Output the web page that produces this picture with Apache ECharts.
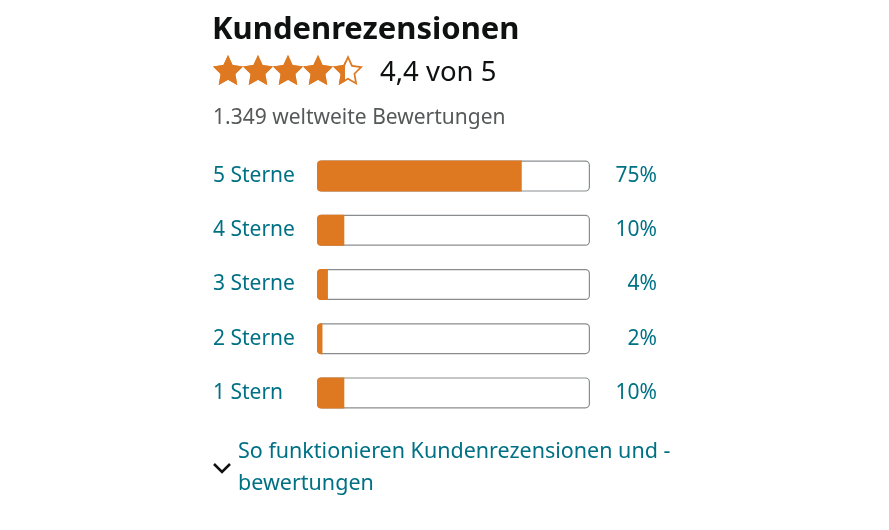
<!DOCTYPE html>
<html><head><meta charset="utf-8">
<script src="https://cdn.jsdelivr.net/npm/echarts@6/dist/echarts.min.js"></script>
<style>html,body{margin:0;padding:0;background:#fff}#c{width:889px;height:530px}</style>
</head><body><div id="c"></div>
<script>
const categories = ['5 Sterne', '4 Sterne', '3 Sterne', '2 Sterne', '1 Stern'];
const percentValues = [75, 10, 4, 2, 10];
const percentLabels = ['75%', '10%', '4%', '2%', '10%'];
const rating = 4.4;
const maxRating = 5;
const totalRatings = '1.349';

const FONT = 'Noto Sans';
const TEAL = '#007185';
const ORANGE = '#de7921';
const STAR = 'path://M12 1.6L15.1 8.1L22.2 9L17 13.9L18.3 21L12 17.6L5.7 21L7 13.9L1.8 9L8.9 8.1Z';
const STAR_HOLLOW = 'path://M12 1.6L15.1 8.1L22.2 9L17 13.9L18.3 21L12 17.6L5.7 21L7 13.9L1.8 9L8.9 8.1Z' +
  'M12 4.3L9.7 9.2L4.35 9.9L8.25 13.55L7.3 18.9L12 16.3L16.7 18.9L15.75 13.55L19.65 9.9L14.3 9.2Z';

const chart = echarts.init(document.getElementById('c'), null, {renderer: 'canvas'});
chart.setOption({
  animation: false,
  textStyle: {fontFamily: FONT},
  grid: [
    {left: 317, right: 299, top: 149, height: 271, containLabel: false},
    {left: 213, width: 150, top: 55, height: 30}
  ],
  xAxis: [
    {gridIndex: 0, type: 'value', min: 0, max: 100, show: false},
    {gridIndex: 1, type: 'value', min: 0, max: maxRating, show: false}
  ],
  yAxis: [
    {gridIndex: 0, type: 'category', data: categories, inverse: true,
     axisLine: {show: false}, axisTick: {show: false}, splitLine: {show: false},
     axisLabel: {align: 'left', margin: 104, color: TEAL, fontSize: 21, fontFamily: FONT}},
    {gridIndex: 0, type: 'category', data: percentLabels, inverse: true, position: 'right',
     axisLine: {show: false}, axisTick: {show: false}, splitLine: {show: false},
     axisLabel: {align: 'right', margin: 67, color: TEAL, fontSize: 21, fontFamily: FONT}},
    {gridIndex: 1, type: 'category', data: ['r'], show: false}
  ],
  series: [
    {type: 'bar', xAxisIndex: 0, yAxisIndex: 0, data: categories.map(() => 100),
     barWidth: 31, barGap: '-100%', silent: true, z: 1,
     itemStyle: {color: '#fff', borderColor: '#8a8d90', borderWidth: 1.2, borderRadius: 4}},
    {type: 'bar', xAxisIndex: 0, yAxisIndex: 0, data: percentValues,
     barWidth: 31, barGap: '-100%', z: 2,
     itemStyle: {color: ORANGE, borderRadius: [4, 0, 0, 4]}},
    {type: 'pictorialBar', xAxisIndex: 1, yAxisIndex: 2, data: [maxRating],
     symbol: STAR_HOLLOW, symbolRepeat: maxRating, symbolSize: [30, 30], symbolPosition: 'start',
     symbolBoundingData: maxRating, z: 1,
     itemStyle: {color: ORANGE}},
    {type: 'pictorialBar', xAxisIndex: 1, yAxisIndex: 2, data: [rating],
     symbol: STAR, symbolRepeat: maxRating, symbolSize: [30, 30], symbolPosition: 'start',
     symbolClip: true, symbolBoundingData: maxRating, z: 2,
     itemStyle: {color: ORANGE}}
  ],
  graphic: [
    {type: 'text', left: 212, top: 15, style: {text: 'Kundenrezensionen', font: 'bold 31px "Noto Sans"', fill: '#0f1111'}},
    {type: 'text', left: 380, top: 59, style: {text: String(rating).replace('.', ',') + ' von ' + maxRating, font: '27.5px "Noto Sans"', fill: '#0f1111'}},
    {type: 'text', left: 213, top: 108, style: {text: totalRatings + ' weltweite Bewertungen', font: '21px "Noto Sans"', fill: '#565959'}},
    {type: 'polyline', shape: {points: [[214, 464], [222, 472], [230, 464]]}, style: {stroke: '#0f1111', lineWidth: 2.5, fill: null}},
    {type: 'text', left: 238, top: 441, style: {text: 'So funktionieren Kundenrezensionen und -', font: '21.5px "Noto Sans"', fill: TEAL}},
    {type: 'text', left: 238, top: 473, style: {text: 'bewertungen', font: '21.5px "Noto Sans"', fill: TEAL}}
  ]
});
</script></body></html>
